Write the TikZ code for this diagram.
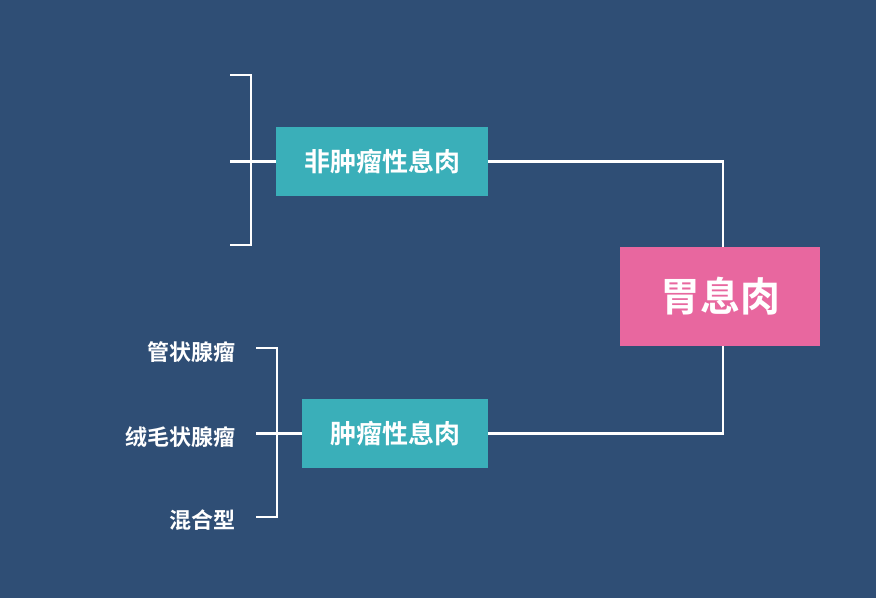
\documentclass[tikz,border=0pt]{standalone}
\usepackage{fontspec}
\newfontfamily\cjk{Noto Sans CJK SC}[BoldFont={* Bold}]
\definecolor{bg}{HTML}{2F4E75}
\definecolor{teal}{HTML}{3AAFB9}
\definecolor{pinkc}{HTML}{E8679F}
\begin{document}
\begin{tikzpicture}[x=1pt,y=-1pt,
  box/.style={fill=teal,text=white,font=\cjk\bfseries\fontsize{26}{30}\selectfont,inner sep=0},
  ln/.style={white,line width=2.6pt},
  lab/.style={text=white,font=\cjk\bfseries\fontsize{22}{26}\selectfont,anchor=east,inner sep=0}]
\fill[bg] (0,0) rectangle (876,598);
\node[box,minimum width=212pt,minimum height=69pt] (a) at (382,161.5) {非肿瘤性息肉};
\node[box,minimum width=186pt,minimum height=69pt] (b) at (395,433.5) {肿瘤性息肉};
\node[fill=pinkc,text=white,font=\cjk\bfseries\fontsize{40}{44}\selectfont,minimum width=200pt,minimum height=99pt,inner sep=0] (p) at (720,296.5) {胃息肉};
\draw[ln] (a.east) -- (723,161.5) -- (723,247);
\draw[ln] (b.east) -- (723,433.5) -- (723,346);
\coordinate (t1) at (230,75); \coordinate (m1) at (230,161.5); \coordinate (u1) at (230,245);
\draw[ln] (t1) -- (251,75) -- (251,245) -- (u1);
\draw[ln] (m1) -- (a.west);
\node[lab] (l1) at (236,352) {管状腺瘤};
\node[lab] (l2) at (236,437) {绒毛状腺瘤};
\node[lab] (l3) at (236,520) {混合型};
\coordinate (t2) at (256,348); \coordinate (m2) at (256,433.5); \coordinate (u2) at (256,517);
\draw[ln] (t2) -- (277,348) -- (277,517) -- (u2);
\draw[ln] (m2) -- (b.west);
\end{tikzpicture}
\end{document}
